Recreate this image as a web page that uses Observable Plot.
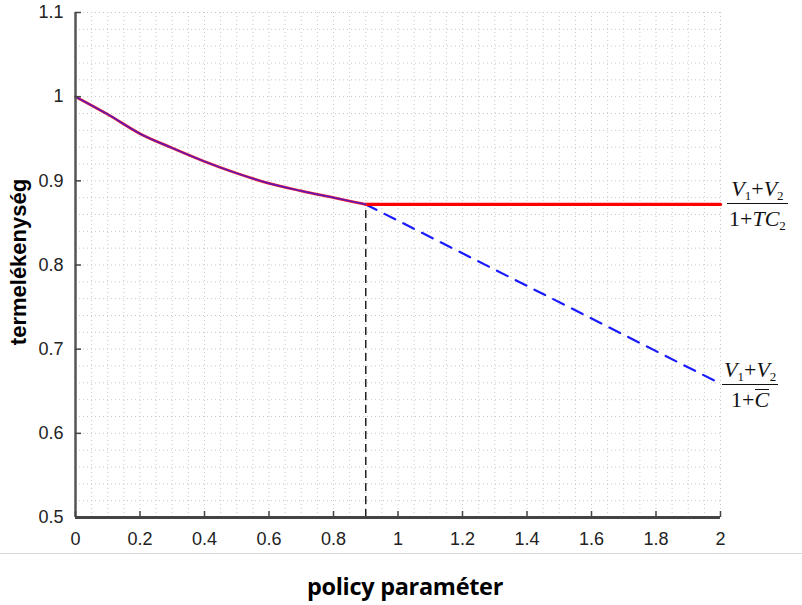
<!DOCTYPE html>
<html>
<head>
<meta charset="utf-8">
<script src="https://cdn.jsdelivr.net/npm/d3@7"></script>
<script src="https://cdn.jsdelivr.net/npm/@observablehq/plot@0.6"></script>
<style>
  html, body { margin: 0; padding: 0; background: #fff; }
  #wrap { position: relative; width: 802px; height: 605px; overflow: hidden; }
  #sep { position: absolute; left: 0; top: 553px; width: 802px; height: 0; border-top: 1px solid #d8d8d8; }
  #xlabel { position: absolute; left: 4px; width: 802px; top: 572px; text-align: center;
    font-family: "Open Sans", sans-serif; font-weight: bold; font-size: 23.5px; letter-spacing: -0.3px; color: #000; line-height: 1.2; }
  .frac { position: absolute; font-family: "Liberation Serif", "Times New Roman", serif; font-size: 22px; color: #111; text-align: center; line-height: 1; }
  .frac .num, .frac .den { display: block; white-space: nowrap; padding: 0 2px; }
  .frac .num { padding-bottom: 3px; }
  .frac .den { border-top: 1.3px solid #111; padding-top: 4px; }
  .frac i { font-style: italic; }
  .frac sub { font-size: 13px; vertical-align: -4px; line-height: 0; }
  .ovl { display: inline-block; border-top: 1.2px solid #111; line-height: 0.85; padding-top: 1px; }
</style>
</head>
<body>
<div id="wrap">
  <div id="chart"></div>
  <div id="sep"></div>
  <div id="xlabel"></div>
  <div class="frac" id="f1" style="left:727px; top:178px;">
    <span class="num"><i>V</i><sub>1</sub>+<i>V</i><sub>2</sub></span>
    <span class="den">1+<i>TC</i><sub>2</sub></span>
  </div>
  <div class="frac" id="f2" style="left:722px; top:359px;">
    <span class="num"><i>V</i><sub>1</sub>+<i>V</i><sub>2</sub></span>
    <span class="den">1+<i class="ovl">C</i></span>
  </div>
</div>
<script>
// ---- data ----
const xLabel = "policy paraméter";
const yLabel = "termelékenység";
const curveX = [0, 0.1, 0.2, 0.3, 0.4, 0.5, 0.6, 0.7, 0.8, 0.9];
const curveY = [1.0, 0.979, 0.956, 0.939, 0.923, 0.909, 0.897, 0.888, 0.880, 0.872];
const flatX = [0.9, 2];
const flatY = [0.872, 0.872];
const dashX = [0.9, 2];
const dashY = [0.872, 0.659];
const cutoffX = [0.9];
const xTicks = [0, 0.2, 0.4, 0.6, 0.8, 1, 1.2, 1.4, 1.6, 1.8, 2];
const xTickLabels = ["0", "0.2", "0.4", "0.6", "0.8", "1", "1.2", "1.4", "1.6", "1.8", "2"];
const yTicks = [0.5, 0.6, 0.7, 0.8, 0.9, 1.0, 1.1];
const yTickLabels = ["0.5", "0.6", "0.7", "0.8", "0.9", "1", "1.1"];
const xGrid = d3.range(0, 2.0001, 0.05);
const yGrid = d3.range(0.5, 1.1001, 0.02);

const curve = curveX.map((x, i) => ({x, y: curveY[i]}));
const flat = flatX.map((x, i) => ({x, y: flatY[i]}));
const dash = dashX.map((x, i) => ({x, y: dashY[i]}));

document.getElementById("xlabel").textContent = xLabel;

const chart = Plot.plot({
  width: 802,
  height: 553,
  marginLeft: 75,
  marginRight: 82,
  marginTop: 12,
  marginBottom: 36,
  style: {fontFamily: "'Liberation Sans', Arial, sans-serif", fontSize: "15px", color: "#333", background: "#fff"},
  x: {domain: [0, 2]},
  y: {domain: [0.5, 1.1]},
  marks: [
    Plot.gridX(xGrid, {stroke: "#c8c8c8", strokeOpacity: 1, strokeDasharray: "1,3"}),
    Plot.gridY(yGrid, {stroke: "#c8c8c8", strokeOpacity: 1, strokeDasharray: "1,3"}),
    Plot.ruleX(cutoffX, {y1: 0.5, y2: flatY[0], stroke: "#222", strokeWidth: 1.5, strokeDasharray: "8,5"}),
    Plot.line(dash, {x: "x", y: "y", stroke: "#1a1aff", strokeWidth: 2.2, strokeDasharray: "12,9"}),
    Plot.line(flat, {x: "x", y: "y", stroke: "#ff0000", strokeWidth: 3.2}),
    Plot.line(curve, {x: "x", y: "y", stroke: "#ff2a2a", strokeWidth: 2.8, curve: "monotone-x"}),
    Plot.line(curve, {x: "x", y: "y", stroke: "#4a10c8", strokeWidth: 1.7, strokeOpacity: 0.85, curve: "monotone-x"}),
    Plot.ruleX([0], {stroke: "#555", strokeWidth: 2.5}),
    Plot.ruleY([0.5], {stroke: "#444", strokeWidth: 3}),
    Plot.axisX(xTicks, {tickFormat: (d, i) => xTickLabels[i], tickSize: -6, tickPadding: 21, fontSize: 18, fill: "#222", stroke: "#444", strokeWidth: 1.5, label: null}),
    Plot.axisY(yTicks, {tickFormat: (d, i) => yTickLabels[i], tickSize: -6, tickPadding: 18, fontSize: 18, fill: "#222", stroke: "#444", strokeWidth: 1.5, label: null}),
    Plot.text([yLabel], {frameAnchor: "left", dx: -57, dy: -3, rotate: -90, textAnchor: "middle", fontWeight: "bold", fontSize: 22, fill: "#000", fontFamily: "'Liberation Sans', Arial, sans-serif"})
  ]
});
document.getElementById("chart").appendChild(chart);
</script>
</body>
</html>
